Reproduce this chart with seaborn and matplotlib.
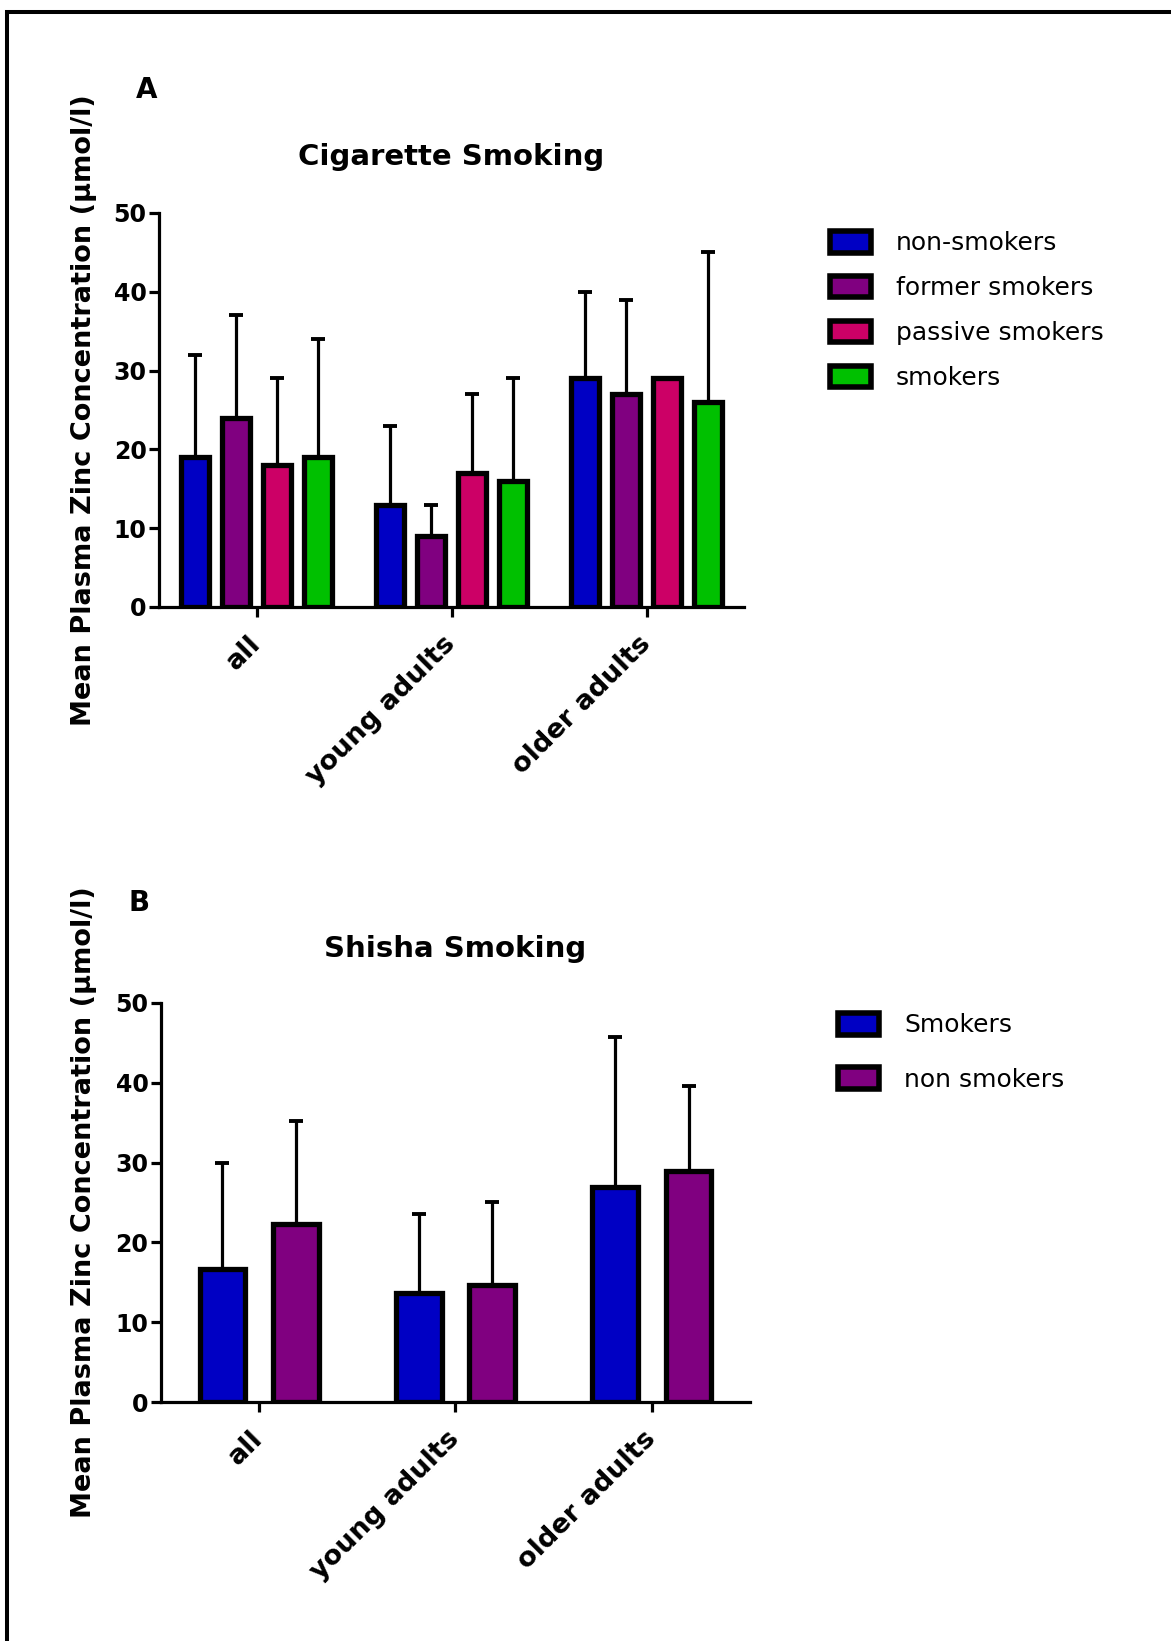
import numpy as np
import pandas as pd
import matplotlib
matplotlib.use("Agg")
import matplotlib.pyplot as plt
import matplotlib.transforms as mtransforms
import seaborn as sns
from matplotlib.patches import Patch, Rectangle

# ---------------- data ----------------
groups = ["all", "young adults", "older adults"]

# Panel A: cigarette smoking
cig_status = ["non-smokers", "former smokers", "passive smokers", "smokers"]
cig_non_mean = [19, 13, 29]
cig_non_sd = [13, 10, 11]
cig_former_mean = [24, 9, 27]
cig_former_sd = [13, 4, 12]
cig_passive_mean = [18, 17, 29]
cig_passive_sd = [11, 10, np.nan]
cig_smokers_mean = [19, 16, 26]
cig_smokers_sd = [15, 13, 19]
cig_colors = ["#0000C4", "#800080", "#CC0066", "#00C000"]

# Panel B: shisha smoking
sh_status = ["Smokers", "non smokers"]
sh_smokers_mean = [16.7, 13.7, 27.0]
sh_smokers_sd = [13.3, 9.8, 18.7]
sh_non_mean = [22.3, 14.6, 29.0]
sh_non_sd = [12.9, 10.5, 10.6]
sh_colors = ["#0000C4", "#800080"]

yticks = [0, 10, 20, 30, 40, 50]


def long_df(status, means, sds):
    rows = []
    for s, m, d in zip(status, means, sds):
        for g, mv, dv in zip(groups, m, d):
            rows.append({"group": g, "status": s, "mean": mv, "sd": dv})
    return pd.DataFrame(rows)


df_a = long_df(cig_status,
               [cig_non_mean, cig_former_mean, cig_passive_mean, cig_smokers_mean],
               [cig_non_sd, cig_former_sd, cig_passive_sd, cig_smokers_sd])
df_b = long_df(sh_status, [sh_smokers_mean, sh_non_mean], [sh_smokers_sd, sh_non_sd])

# ---------------- style ----------------
sns.set_style("ticks")
plt.rcParams["font.family"] = ["DejaVu Sans"]
plt.rcParams.update({
    "axes.linewidth": 2.3,
    "text.color": "black",
    "axes.labelcolor": "black",
    "axes.edgecolor": "black",
    "xtick.color": "black",
    "ytick.color": "black",
})

W, H = 1171, 1641
fig = plt.figure(figsize=(W / 100, H / 100), dpi=100)


def px_axes(l, t, r, b):
    return fig.add_axes([l / W, 1 - b / H, (r - l) / W, (b - t) / H])


ax_a = px_axes(159, 213, 744, 607)
ax_b = px_axes(161, 1003, 750, 1402)


def draw_panel(ax, df, status, colors, width, gap):
    sns.barplot(data=df, x="group", y="mean", hue="status", hue_order=status,
                order=groups, palette=colors, saturation=1, width=width,
                gap=gap, edgecolor="black", linewidth=3.8, errorbar=None,
                legend=False, ax=ax, zorder=3)
    # upper-only error bars positioned on the drawn bars
    for cont, s in zip(ax.containers, status):
        sub = df[df["status"] == s].set_index("group")
        xs, ms, es = [], [], []
        for bar in cont:
            xc = bar.get_x() + bar.get_width() / 2
            g = groups[int(round(xc))]
            xs.append(xc)
            ms.append(sub.loc[g, "mean"])
            es.append(sub.loc[g, "sd"])
        xs = np.array(xs)
        ms = np.array(ms)
        es = np.array(es, dtype=float)
        ax.errorbar(xs, ms, yerr=[np.zeros_like(es), es], fmt="none",
                    ecolor="black", elinewidth=2.3, capsize=4.7,
                    capthick=2.8, zorder=2)
    ax.set_xlim(-0.5, 2.5)
    ax.set_ylim(0, 50)
    ax.set_yticks(yticks)
    ax.set_yticklabels([str(v) for v in yticks], fontsize=17,
                       fontweight="bold")
    ax.set_xticks(range(len(groups)))
    ax.set_xticklabels(groups, rotation=45, ha="right", va="center",
                       rotation_mode="anchor", fontsize=19.5,
                       fontweight="bold")
    offset = mtransforms.ScaledTranslation(4 / 100, -2 / 100, fig.dpi_scale_trans)
    for lab in ax.get_xticklabels():
        lab.set_transform(lab.get_transform() + offset)
    ax.tick_params(axis="both", length=7, width=2.3, direction="out",
                   color="black")
    ax.tick_params(axis="y", pad=2)
    ax.tick_params(axis="x", pad=17)
    sns.despine(ax=ax)
    ax.set_xlabel("")
    ax.set_ylabel("Mean Plasma Zinc Concentration (\u00b5mol/l)",
                  fontsize=19.5, fontweight="bold")
    ax.yaxis.label.set_va("center")


draw_panel(ax_a, df_a, cig_status, cig_colors, 0.84, 0.33)
draw_panel(ax_b, df_b, sh_status, sh_colors, 0.75, 0.38)

ax_a.yaxis.set_label_coords((84 - 159) / 585, 0.5)
ax_b.yaxis.set_label_coords((84 - 161) / 589, 0.5)

ax_a.text(0.5, 1 + 48 / 394, "Cigarette Smoking", transform=ax_a.transAxes,
          ha="center", va="baseline", fontsize=21, fontweight="bold")
ax_b.text(0.5, 1 + 46 / 399, "Shisha Smoking", transform=ax_b.transAxes,
          ha="center", va="baseline", fontsize=21, fontweight="bold")

fig.text(147 / W, 1 - 90 / H, "A", ha="center", va="center", fontsize=20,
         fontweight="bold")
fig.text(139 / W, 1 - 903 / H, "B", ha="center", va="center", fontsize=20,
         fontweight="bold")

# legends
handles_a = [Patch(facecolor=c, edgecolor="black", linewidth=4.0) for c in cig_colors]
fig.legend(handles_a, cig_status, loc="upper left",
           bbox_to_anchor=(830 / W, 1 - 231 / H), frameon=False,
           fontsize=18, handlelength=1.64, handleheight=0.95,
           handletextpad=1.0, labelspacing=0.82, borderpad=0,
           borderaxespad=0)
handles_b = [Patch(facecolor=c, edgecolor="black", linewidth=4.0) for c in sh_colors]
fig.legend(handles_b, sh_status, loc="upper left",
           bbox_to_anchor=(838 / W, 1 - 1013 / H), frameon=False,
           fontsize=18, handlelength=1.64, handleheight=0.95,
           handletextpad=1.0, labelspacing=1.2, borderpad=0,
           borderaxespad=0)

# outer frame (cropped at right/bottom in the original)
fig.patches.append(Rectangle((7 / W, -0.1), 1.5, 1.1 - 12 / H,
                             transform=fig.transFigure, fill=False,
                             edgecolor="black", linewidth=2.9, clip_on=False))

fig.savefig("out.png", dpi=100)
